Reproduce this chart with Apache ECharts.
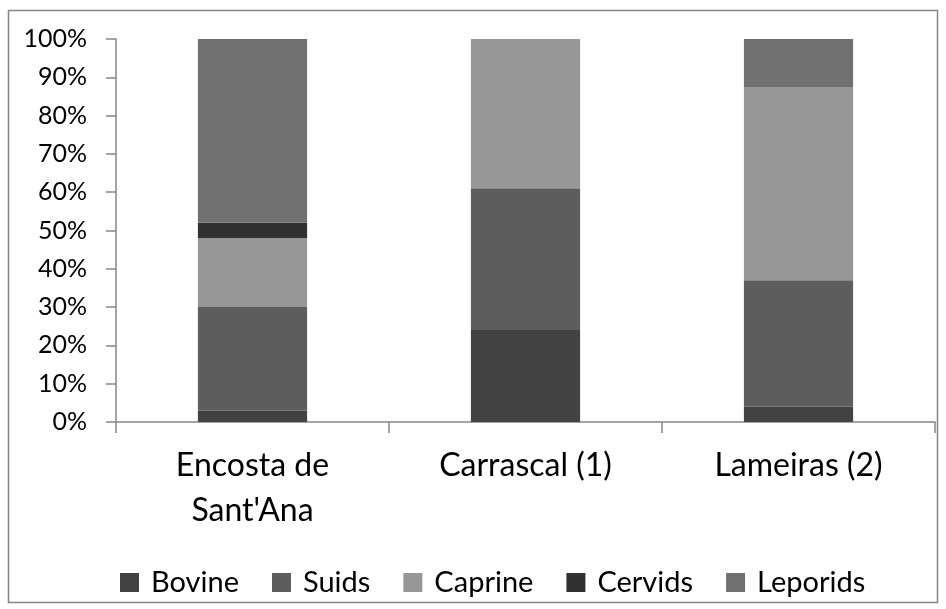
<!DOCTYPE html>
<html>
<head>
<meta charset="utf-8">
<script src="https://cdn.jsdelivr.net/npm/echarts@6/dist/echarts.min.js"></script>
<style>
  html, body { margin: 0; padding: 0; background: #fff; }
  #chart { width: 946px; height: 609px; }
</style>
</head>
<body>
<div id="chart"></div>
<script>
// sites on the x axis
var sites = ['Encosta de\nSant\'Ana', 'Carrascal (1)', 'Lameiras (2)'];

// share of each taxon per site (%)
var bovine   = [3, 24, 4];
var suids    = [27, 37, 33];
var caprine  = [18, 39, 50.5];
var cervids  = [4, 0, 0];
var leporids = [48, 0, 12.5];

var names  = ['Bovine', 'Suids', 'Caprine', 'Cervids', 'Leporids'];
var colors = ['#424242', '#5d5d5d', '#979797', '#313131', '#717171'];
var values = [bovine, suids, caprine, cervids, leporids];

var font = 'Lato, "Open Sans", sans-serif';

var chart = echarts.init(document.getElementById('chart'));

var series = names.map(function (n, i) {
  return {
    name: n,
    type: 'bar',
    stack: 'all',
    barWidth: '40%',
    itemStyle: { color: colors[i] },
    data: values[i]
  };
});

chart.setOption({
  animation: false,
  textStyle: { fontFamily: font },
  grid: { left: 116, right: 11, top: 39, bottom: 187 },
  legend: {
    data: names,
    top: 563,
    left: 115,
    icon: 'rect',
    itemWidth: 19,
    itemHeight: 19,
    itemGap: 33,
    textStyle: { fontFamily: font, fontSize: 29, color: '#000', padding: [0, 0, 0, 7] }
  },
  xAxis: {
    type: 'category',
    data: sites,
    axisLine: { lineStyle: { color: '#868686', width: 1.5 } },
    axisTick: { show: true, length: 11, lineStyle: { color: '#868686', width: 1.5 } },
    axisLabel: {
      color: '#000',
      fontSize: 32,
      lineHeight: 45,
      margin: 21,
      fontFamily: font
    }
  },
  yAxis: {
    type: 'value',
    min: 0,
    max: 100,
    interval: 10,
    axisLine: { show: true, lineStyle: { color: '#868686', width: 1.5 } },
    axisTick: { show: true, length: 10, lineStyle: { color: '#868686', width: 1.5 } },
    splitLine: { show: false },
    axisLabel: {
      color: '#000',
      fontSize: 25,
      margin: 29,
      fontFamily: font,
      formatter: '{value}%'
    }
  },
  graphic: [{
    type: 'rect',
    shape: { x: 8.5, y: 10.5, width: 929, height: 592 },
    style: { fill: null, stroke: '#868686', lineWidth: 1.5 },
    silent: true
  }],
  series: series
});
</script>
</body>
</html>
